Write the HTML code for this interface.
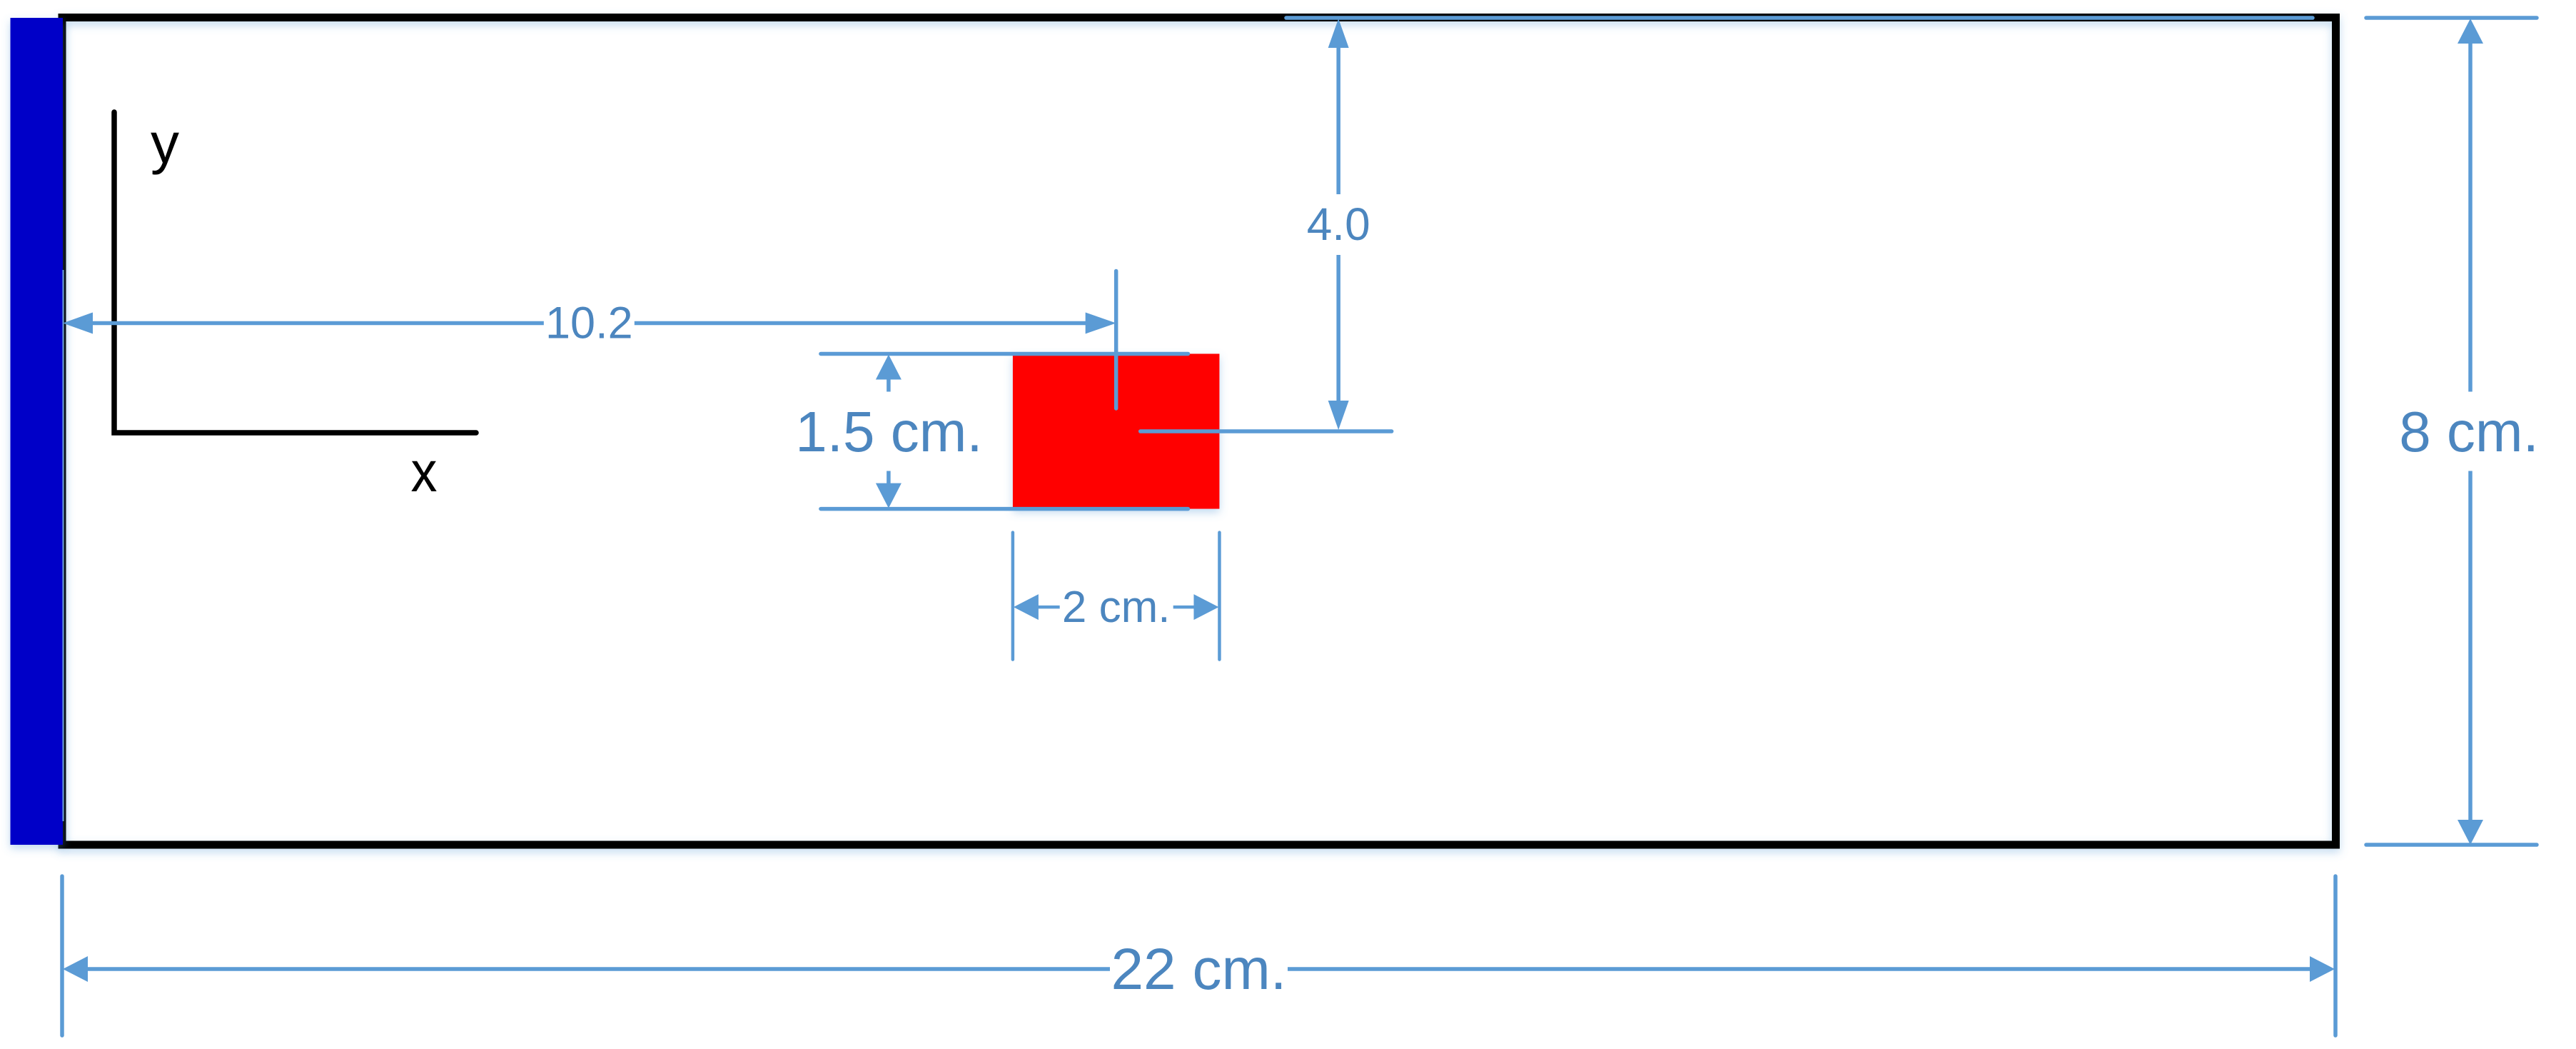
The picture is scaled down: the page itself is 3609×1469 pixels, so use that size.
<!DOCTYPE html>
<html lang="en">
<head>
<meta charset="utf-8">
<title>Domain and block dimension diagram</title>
<style>
  html, body { margin: 0; padding: 0; background: #ffffff; }
  svg { display: block; }
  .dim { stroke: #5b9bd5; fill: none; stroke-width: 5.5; }
  .ext { stroke-linecap: round; }
  .head { fill: #5b9bd5; stroke: none; }
  text { font-family: "Liberation Sans", sans-serif; }
  .label { fill: #4c86bf; text-anchor: middle; }
  .axis-label { fill: #000000; text-anchor: middle; font-size: 80px; }
</style>
</head>
<body>
<svg id="diagram" xmlns="http://www.w3.org/2000/svg" width="3609" height="1469" viewBox="0 0 3609 1469">
  <defs>
    <filter id="soft-shadow" filterUnits="userSpaceOnUse" x="0" y="0" width="3609" height="1469">
      <feDropShadow dx="0" dy="5" stdDeviation="6" flood-color="#5b9bd5" flood-opacity="0.38"/>
    </filter>
  </defs>

  <rect id="frame" fill="none" stroke="#000000" stroke-width="11" filter="url(#soft-shadow)"/>
  <rect id="wall" fill="#0000c8" filter="url(#soft-shadow)"/>
  <line id="wallTick" stroke="#6fa3dc" stroke-width="2"/>

  <path id="axes" d="M160 157 V606 H667" fill="none" stroke="#000000" stroke-width="7.5" stroke-linecap="round" stroke-linejoin="miter"/>
  <text id="yLabel" class="axis-label" x="231" y="228">y</text>
  <text id="xLabel" class="axis-label" x="594" y="688" textLength="37" lengthAdjust="spacingAndGlyphs">x</text>

  <rect id="block" fill="#ff0000" filter="url(#soft-shadow)"/>

  <!-- 4.0 depth dimension -->
  <line id="depthTop" class="dim ext"/>
  <line id="depthBottom" class="dim ext"/>
  <line id="depthLineA" class="dim"/>
  <line id="depthLineB" class="dim"/>
  <polygon id="depthHeadA" class="head"/>
  <polygon id="depthHeadB" class="head"/>
  <text id="depthLabel" class="label" font-size="64">4.0</text>

  <!-- 10.2 offset dimension -->
  <line id="offsetTick" class="dim ext"/>
  <line id="offsetLineA" class="dim"/>
  <line id="offsetLineB" class="dim"/>
  <polygon id="offsetHeadA" class="head"/>
  <polygon id="offsetHeadB" class="head"/>
  <text id="offsetLabel" class="label" font-size="63">10.2</text>

  <!-- 1.5 cm block height -->
  <line id="blockTopExt" class="dim ext"/>
  <line id="blockBottomExt" class="dim ext"/>
  <line id="blockHLineA" class="dim"/>
  <line id="blockHLineB" class="dim"/>
  <polygon id="blockHHeadA" class="head"/>
  <polygon id="blockHHeadB" class="head"/>
  <text id="blockHLabel" class="label" font-size="80">1.5 cm.</text>

  <!-- 2 cm block width -->
  <line id="blockLeftExt" class="dim ext" style="stroke-width:4.5"/>
  <line id="blockRightExt" class="dim ext" style="stroke-width:4.5"/>
  <line id="blockWLineA" class="dim" style="stroke-width:4.5"/>
  <line id="blockWLineB" class="dim" style="stroke-width:4.5"/>
  <polygon id="blockWHeadA" class="head"/>
  <polygon id="blockWHeadB" class="head"/>
  <text id="blockWLabel" class="label" font-size="62">2 cm.</text>

  <!-- 8 cm domain height -->
  <line id="domainTopExt" class="dim ext"/>
  <line id="domainBottomExt" class="dim ext"/>
  <line id="domainHLineA" class="dim"/>
  <line id="domainHLineB" class="dim"/>
  <polygon id="domainHHeadA" class="head"/>
  <polygon id="domainHHeadB" class="head"/>
  <text id="domainHLabel" class="label" font-size="80">8 cm.</text>

  <!-- 22 cm domain width -->
  <line id="domainLeftExt" class="dim ext"/>
  <line id="domainRightExt" class="dim ext"/>
  <line id="domainWLineA" class="dim"/>
  <line id="domainWLineB" class="dim"/>
  <polygon id="domainWHeadA" class="head"/>
  <polygon id="domainWHeadB" class="head"/>
  <text id="domainWLabel" class="label" font-size="82">22 cm.</text>
</svg>

<script>
// Physical dimensions, in centimetres: [horizontal, vertical]
const domainSize = [22, 8];
const blockSize = [2, 1.5];
const blockCenter = [10.2, 4.0];

// Axis functions: centimetres to pixels
const pxPerCmX = 3185 / 22;
const pxPerCmY = 1158 / 8;
function xScale(cm) { return 87 + cm * pxPerCmX; }
function yScale(cm) { return 25 + cm * pxPerCmY; }

function byId(id) { return document.getElementById(id); }
function setAttrs(id, attrs) {
  const el = byId(id);
  Object.keys(attrs).forEach(function (k) { el.setAttribute(k, attrs[k]); });
}
function hLine(id, x1, x2, y) { setAttrs(id, { x1: x1, x2: x2, y1: y, y2: y }); }
function vLine(id, x, y1, y2) { setAttrs(id, { x1: x, x2: x, y1: y1, y2: y2 }); }
function headPoints(id, tipX, tipY, dirX, dirY, len, half) {
  const bx = tipX - dirX * len, by = tipY - dirY * len;
  const pts = [
    [tipX, tipY],
    [bx + dirY * half, by + dirX * half],
    [bx - dirY * half, by - dirX * half]
  ];
  byId(id).setAttribute('points', pts.map(function (p) { return p[0] + ',' + p[1]; }).join(' '));
}
function place(id, x, y) { setAttrs(id, { x: x, y: y }); }

const left = xScale(0), right = xScale(domainSize[0]);
const top_ = yScale(0), bottom = yScale(domainSize[1]);
const cx = xScale(blockCenter[0]), cy = yScale(blockCenter[1]);
const blockL = xScale(blockCenter[0] - blockSize[0] / 2), blockR = xScale(blockCenter[0] + blockSize[0] / 2);
const blockT = yScale(blockCenter[1] - blockSize[1] / 2), blockB = yScale(blockCenter[1] + blockSize[1] / 2);

// Frame, wall, block
setAttrs('frame', { x: left, y: top_ - 0.5, width: right - left + 0.5, height: bottom - top_ + 0.5 });
setAttrs('wall', { x: left - 72.5, y: top_, width: 73.5, height: bottom - top_ });
vLine('wallTick', left + 1.5, 378, bottom - 33);
setAttrs('block', { x: blockL, y: blockT, width: blockR - blockL, height: blockB - blockT });

// Depth dimension (top wall to block centre)
const depthX = cx + 311.5;
hLine('depthTop', 1802, right - 32, top_);
hLine('depthBottom', cx + 34, cx + 386, cy);
const depthMid = (top_ + cy) / 2;
vLine('depthLineA', depthX, top_ + 40, depthMid - 42.5);
vLine('depthLineB', depthX, depthMid + 42.5, cy - 41);
headPoints('depthHeadA', depthX, top_ + 1, 0, -1, 41, 14.5);
headPoints('depthHeadB', depthX, cy - 2, 0, 1, 41, 14.5);
place('depthLabel', depthX, depthMid + 21.5);

// Offset dimension (left wall to block centre)
const offsetY = blockT - 43;
const offsetMid = (left + cx) / 2;
vLine('offsetTick', cx, offsetY - 73, blockT + 76.5);
hLine('offsetLineA', left + 41, offsetMid - 63.5, offsetY);
hLine('offsetLineB', offsetMid + 63.5, cx - 41, offsetY);
headPoints('offsetHeadA', left + 1, offsetY, -1, 0, 42, 15);
headPoints('offsetHeadB', cx, offsetY, 1, 0, 43, 15);
place('offsetLabel', offsetMid, offsetY + 21);

// Block height dimension
const blockHX = blockL - 174;
const blockMidY = (blockT + blockB) / 2;
hLine('blockTopExt', blockL - 269, blockR - 44, blockT);
hLine('blockBottomExt', blockL - 269, blockR - 44, blockB);
vLine('blockHLineA', blockHX, blockT + 33, blockMidY - 55.5);
vLine('blockHLineB', blockHX, blockMidY + 55.5, blockB - 33);
headPoints('blockHHeadA', blockHX, blockT + 1, 0, -1, 35, 18);
headPoints('blockHHeadB', blockHX, blockB - 1, 0, 1, 35, 18);
place('blockHLabel', blockHX + 0.5, blockMidY + 28);

// Block width dimension
const blockWY = blockB + 137.5;
vLine('blockLeftExt', blockL, blockB + 33, blockB + 211);
vLine('blockRightExt', blockR, blockB + 33, blockB + 211);
hLine('blockWLineA', blockL + 33, cx - 79, blockWY);
hLine('blockWLineB', cx + 80, blockR - 33, blockWY);
headPoints('blockWHeadA', blockL + 1, blockWY, -1, 0, 35, 18);
headPoints('blockWHeadB', blockR - 1, blockWY, 1, 0, 35, 18);
place('blockWLabel', cx, blockWY + 21);

// Domain height dimension
const domainHX = right + 189;
const domainMidY = (top_ + bottom) / 2;
hLine('domainTopExt', right + 43, right + 282, top_);
hLine('domainBottomExt', right + 43, right + 282, bottom);
vLine('domainHLineA', domainHX, top_ + 33, domainMidY - 55.5);
vLine('domainHLineB', domainHX, domainMidY + 55.5, bottom - 33);
headPoints('domainHHeadA', domainHX, top_ + 1, 0, -1, 35, 18);
headPoints('domainHHeadB', domainHX, bottom, 0, 1, 35, 18);
place('domainHLabel', domainHX - 2, domainMidY + 28);

// Domain width dimension
const domainWY = bottom + 174;
const domainMidX = (left + right) / 2;
vLine('domainLeftExt', left, bottom + 44, bottom + 267);
vLine('domainRightExt', right, bottom + 44, bottom + 267);
hLine('domainWLineA', left + 33, domainMidX - 124.5, domainWY);
hLine('domainWLineB', domainMidX + 124.5, right - 33, domainWY);
headPoints('domainWHeadA', left + 1, domainWY, -1, 0, 35, 18);
headPoints('domainWHeadB', right - 1, domainWY, 1, 0, 35, 18);
place('domainWLabel', domainMidX, domainWY + 28);
</script>
</body>
</html>
